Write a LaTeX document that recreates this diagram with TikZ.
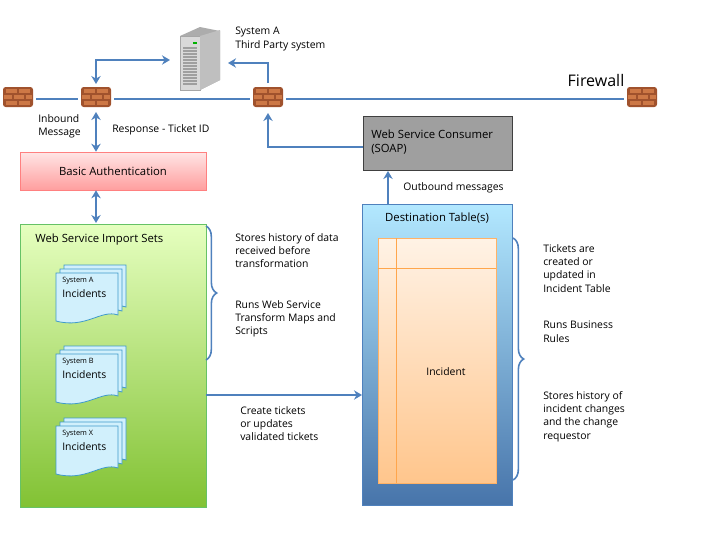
\documentclass[tikz,border=0pt]{standalone}
\usepackage{fontspec}
\setmainfont{Open Sans}
\usetikzlibrary{arrows.meta,decorations.pathreplacing}
\definecolor{ln}{RGB}{79,129,189}
\definecolor{brick}{RGB}{160,82,45}
\definecolor{brickL}{RGB}{205,120,70}
\tikzset{
  x=0.75pt,y=-0.75pt,
  every node/.style={font=\fontsize{7.8}{10}\selectfont,align=left,inner sep=0pt},
  con/.style={draw=ln,line width=1.3pt,-{Stealth[length=6pt,width=7pt]}},
  dcon/.style={draw=ln,line width=1.3pt,{Stealth[length=6pt,width=7pt]}-{Stealth[length=6pt,width=7pt]}},
  brace/.style={draw=ln,line width=1.2pt,decorate,decoration={brace,amplitude=8pt}},
  fw/.pic={
    \fill[brick,rounded corners=2pt] (-15,-10) rectangle (15,10);
    \fill[brickL] (-12,-8) rectangle (-1,-4); \fill[brickL] (1,-8) rectangle (12,-4);
    \fill[brickL] (-14,-2) rectangle (-6,2); \fill[brickL] (-4,-2) rectangle (6,2); \fill[brickL] (8,-2) rectangle (14,2);
    \fill[brickL] (-12,4) rectangle (-1,8); \fill[brickL] (1,4) rectangle (12,8);
  },
  doc/.pic={
    \draw[ln!80!cyan,fill=cyan!18,line width=0.6pt] (0,0) -- (62,0) -- (62,42) .. controls (45,36) and (30,56) .. (0,48) -- cycle;
  },
  stack/.pic={
    \pic at (8,-8) {doc}; \pic at (4,-4) {doc}; \pic at (0,0) {doc};
  }
}
\begin{document}
\begin{tikzpicture}
\useasboundingbox (0,0) rectangle (720,540);
% firewall line
\draw[ln,line width=1.3pt] (36,99) -- (78,99) (114,99) -- (250,99) (286,99) -- (624,99);
\pic at (18,97) {fw}; \pic at (96,97) {fw}; \pic at (268,97) {fw}; \pic at (642,97) {fw};
\node[font=\fontsize{12}{14}\selectfont] (fwl) at (596,80) {Firewall};
% server
\fill[gray!65] (180,36) -- (200,27) -- (220,31) -- (220,80) -- (200,90) -- cycle;
\fill[gray!30,draw=gray!70] (180,36) rectangle (200,90);
\fill[gray!50] (200,36) -- (220,30) -- (220,80) -- (200,90) -- cycle;
\foreach \yy in {48,51,...,86} \draw[gray!75,line width=1.1pt] (183,\yy) -- (197,\yy);
\fill[green!70!black] (193,42) rectangle (197,44);
\node (srv) at (200,58) {};
\node[anchor=north west] (sysa) at (235,27) {System A\\Third Party system};
\draw[dcon] (96,84) -- (96,60) -- (170,60);
\draw[con] (268,83) -- (268,63) -- (228,63);
\node[anchor=north west] (inb) at (38,114) {Inbound\\Message};
\node[anchor=west] (resp) at (112,130) {Response - Ticket ID};
% basic auth
\node[draw=red!50,top color=red!10,bottom color=red!38,minimum width=186*0.75pt,minimum height=38*0.75pt,font=\fontsize{8.5}{10}\selectfont] (auth) at (113,171) {Basic Authentication};
\draw[dcon] (96,112) -- (auth.north -| 96,0);
\draw[dcon] (auth.south -| 96,0) -- (96,223);
% import sets
\node[draw=green!60!black!60,top color=green!40!yellow!25,bottom color=green!45!yellow!70!black!80,minimum width=186*0.75pt,minimum height=283*0.75pt,anchor=north west] (imp) at (20,224) {};
\node[anchor=west,font=\fontsize{8.5}{10}\selectfont] (impt) at (35,240) {Web Service Import Sets};
\pic at (56,273) {stack};
\node[anchor=north west,font=\fontsize{5.5}{6}\selectfont] (sa) at (62,277) {System A};
\node[anchor=north west] (ia) at (62,289) {Incidents};
\pic at (56,354) {stack};
\node[anchor=north west,font=\fontsize{5.5}{6}\selectfont] (sb) at (62,358) {System B};
\node[anchor=north west] (ib) at (62,370) {Incidents};
\pic at (56,426) {stack};
\node[anchor=north west,font=\fontsize{5.5}{6}\selectfont] (sx) at (62,430) {System X};
\node[anchor=north west] (ix) at (62,442) {Incidents};
\draw[brace] (206,226) -- (206,360);
\node[anchor=north west] (t1) at (235,233) {Stores history of data\\received before\\transformation};
\node[anchor=north west] (t2) at (235,300) {Runs Web Service\\Transform Maps and\\Scripts};
% gray box
\node[draw=gray!50!black,fill=gray!75,minimum width=149*0.75pt,minimum height=54*0.75pt,anchor=north west] (ws) at (363,116) {};
\node[anchor=north west,font=\fontsize{8.5}{10.5}\selectfont] (wst) at (371,130) {Web Service Consumer\\(SOAP)};
\draw[con] (ws.west |- 0,147) -- (268,147) -- (268,113);
% destination
\node[draw=ln,top color=blue!30!cyan!30,bottom color=ln!90!black,minimum width=150*0.75pt,minimum height=301*0.75pt,anchor=north west] (dst) at (362,204) {};
\node[font=\fontsize{8.5}{10}\selectfont] (dstt) at (437,218) {Destination Table(s)};
\draw[con] (388,204) -- (388,171);
\node[anchor=west] (ob) at (403,188) {Outbound messages};
\node[draw=orange!60,top color=orange!10,bottom color=orange!45,minimum width=118*0.75pt,minimum height=245*0.75pt,anchor=north west] (inc) at (378,238) {};
\draw[orange!70,line width=0.6pt] (378,268) -- (496,268) (396,238) -- (396,483);
\node (inct) at (446,372) {Incident};
\draw[con] (206,395) -- (362,395);
\node[anchor=north west] (ct) at (240,406) {Create tickets\\or updates\\validated tickets};
\draw[brace] (513,238) -- (513,480);
\node[anchor=north west] (r1) at (543,244) {Tickets are\\created or\\updated in\\Incident Table};
\node[anchor=north west] (r2) at (543,321) {Runs Business\\Rules};
\node[anchor=north west] (r3) at (543,391) {Stores history of\\incident changes\\and the change\\requestor};
\end{tikzpicture}
\end{document}
